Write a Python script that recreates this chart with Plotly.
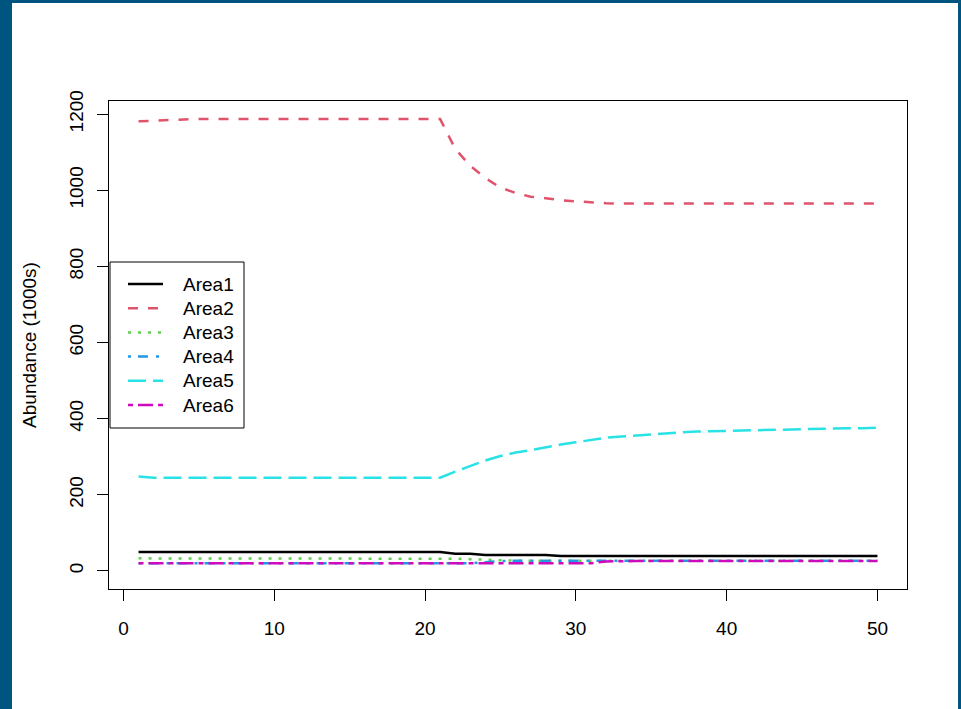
import plotly.graph_objects as go

# ---- data -------------------------------------------------------------
years = list(range(1, 51))

area1 = [50] * 21 + [45, 45] + [42, 42, 42, 42, 42] + [39] * 22
area2 = ([1181, 1183, 1185, 1186] + [1187] * 17 +
         [1109, 1064, 1032, 1007, 993, 983, 979, 974, 971, 968, 966, 965] +
         [965] * 17)
area3 = [33] * 21 + [32, 31, 29, 28] + [27] * 25
area4 = [20] * 23 + [23, 26] + [27] * 25
area5 = ([248] + [245] * 20 +
         [261, 276, 290, 302, 311, 317, 325, 332, 338, 344, 350, 353, 356,
          358, 362, 364, 366, 367, 368, 369, 370, 371, 372, 373, 374, 374,
          375, 375, 376])
area6 = [20] * 31 + [25] + [26] * 18

series_names = ["Area1", "Area2", "Area3", "Area4", "Area5", "Area6"]
series_values = [area1, area2, area3, area4, area5, area6]
series_colors = ["#000000", "#DF536B", "#61D04F", "#2297E6", "#28E2E5", "#CD0BBC"]
series_dashes = ["solid", "10px,10px", "3px,7px", "3px,7px,10px,8px",
                 "18px,7px", "5px,5px,15px,5px"]

x_ticks = [0, 10, 20, 30, 40, 50]
y_ticks = [0, 200, 400, 600, 800, 1000, 1200]
y_title = "Abundance (1000s)"

# ---- geometry ---------------------------------------------------------
W, H = 961, 709
L, R, T, B = 109, 54, 101, 120
PW, PH = W - L - R, H - T - B
FONT = "Liberation Sans, Arial, sans-serif"
FRAME = "#005480"


def px(x):
    return (x - L) / PW


def py(y):
    return (H - B - y) / PH


# axis ranges padded 4% like base graphics
xmin, xmax = min(years), max(years)
xpad = 0.04 * (xmax - xmin)
ymin, ymax = 0, max(max(v) for v in series_values)
ypad = 0.04 * (ymax - ymin)

fig = go.Figure()
for name, vals, col, dash in zip(series_names, series_values,
                                 series_colors, series_dashes):
    fig.add_trace(go.Scatter(x=years, y=vals, mode="lines", name=name,
                             line=dict(color=col, width=2.5, dash=dash),
                             showlegend=False))

shapes = []
annotations = []

# outer frame
for x0, x1, y0, y1 in [(0, 12, 0, H), (0, W, 0, 3), (958, W, 0, H)]:
    shapes.append(dict(type="rect", xref="paper", yref="paper",
                       x0=px(x0), x1=px(x1), y0=py(y1), y1=py(y0),
                       fillcolor=FRAME, line=dict(width=0), layer="below"))

# legend box
lg_x0, lg_x1, lg_y0, lg_y1 = 110, 244, 262, 428
shapes.append(dict(type="rect", xref="paper", yref="paper",
                   x0=px(lg_x0), x1=px(lg_x1), y0=py(lg_y1), y1=py(lg_y0),
                   fillcolor="white", line=dict(color="black", width=1)))
row0, row_step = 284, 24.2
for i, (name, col, dash) in enumerate(zip(series_names, series_colors,
                                          series_dashes)):
    yc = row0 + i * row_step
    shapes.append(dict(type="line", xref="paper", yref="paper",
                       x0=px(128), x1=px(163), y0=py(yc), y1=py(yc),
                       line=dict(color=col, width=2.5, dash=dash)))
    annotations.append(dict(xref="paper", yref="paper", x=px(181), y=py(yc),
                            text=name, showarrow=False, xanchor="left",
                            yanchor="middle",
                            font=dict(family=FONT, size=19, color="black")))

fig.update_layout(
    width=W, height=H,
    margin=dict(l=L, r=R, t=T, b=B, autoexpand=False),
    paper_bgcolor="white", plot_bgcolor="white",
    font=dict(family=FONT, size=19, color="black"),
    shapes=shapes, annotations=annotations,
    showlegend=False,
    xaxis=dict(range=[xmin - xpad, xmax + xpad], tickvals=x_ticks,
               showgrid=False, zeroline=False, showline=True, mirror=True,
               linecolor="black", linewidth=1, ticks="outside", ticklen=11,
               tickcolor="black", tickwidth=1, ticklabelstandoff=11,
               tickfont=dict(family=FONT, size=19, color="black")),
    yaxis=dict(range=[ymin - ypad, ymax + ypad], tickvals=y_ticks,
               showgrid=False, zeroline=False, showline=True, mirror=True,
               linecolor="black", linewidth=1, ticks="outside", ticklen=11,
               tickcolor="black", tickwidth=1, tickangle=-90,
               ticklabelstandoff=6,
               tickfont=dict(family=FONT, size=19, color="black"),
               title=dict(text=y_title, standoff=24,
                          font=dict(family=FONT, size=19, color="black"))),
)

fig.write_html("out.html")
